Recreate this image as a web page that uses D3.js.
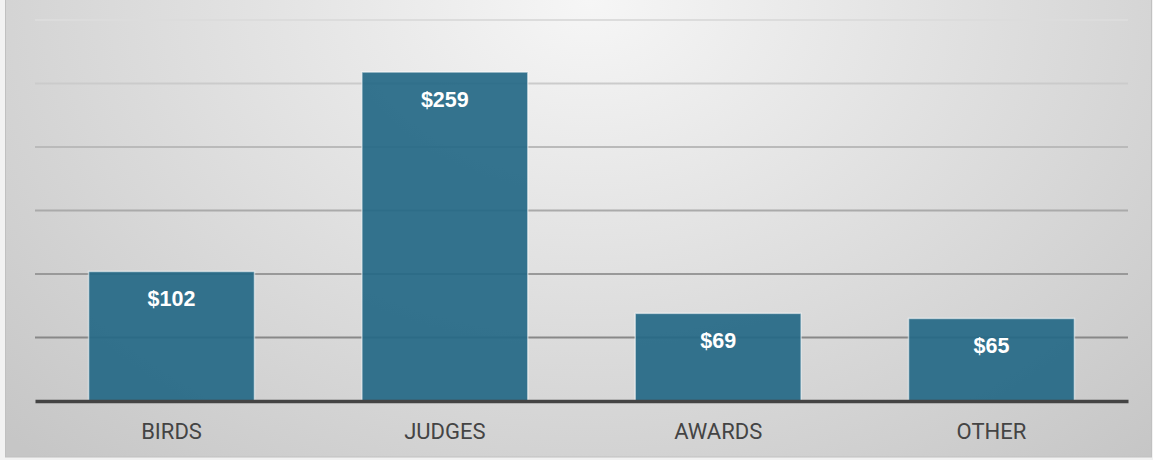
<!DOCTYPE html>
<html>
<head>
<meta charset="utf-8">
<script src="https://cdn.jsdelivr.net/npm/d3@7"></script>
<style>
  html, body { margin: 0; padding: 0; background: #f2f2f2; }
  svg { display: block; }
</style>
</head>
<body>
<div id="chart"></div>
<script>
const categories = ["BIRDS", "JUDGES", "AWARDS", "OTHER"];
const amounts = [102, 259, 69, 65];
const tickValues = [0, 50, 100, 150, 200, 250, 300];

const W = 1153, H = 460;
const margin = { top: 20, right: 25, bottom: 59, left: 35 };
const width = W - margin.left - margin.right,
    height = H - margin.top - margin.bottom;

const svg = d3.select("#chart")
    .append("svg")
    .attr("width", W)
    .attr("height", H);

const defs = svg.append("defs");
const bg = defs.append("radialGradient")
    .attr("id", "bg")
    .attr("gradientUnits", "userSpaceOnUse")
    .attr("cx", 0).attr("cy", 0).attr("r", 1)
    .attr("gradientTransform", "translate(590,0) scale(820,620)");
bg.append("stop").attr("offset", "0%").attr("stop-color", "#f6f6f6");
bg.append("stop").attr("offset", "100%").attr("stop-color", "#c6c6c6");

svg.append("rect")
    .attr("x", 5.5).attr("y", -1)
    .attr("width", W - 7).attr("height", H - 2)
    .attr("fill", "url(#bg)")
    .attr("stroke", "#c0c0c0")
    .attr("stroke-width", 1);

const chart = svg.append("g")
    .attr("transform", `translate(${margin.left},${margin.top})`);

const x = d3.scaleBand()
    .domain(categories)
    .range([0, width])
    .paddingInner(0.393)
    .paddingOuter(0.196);

const y = d3.scaleLinear()
    .domain([0, 300])
    .range([height, 0]);

// gridlines get darker toward the bottom
const gridColor = d3.scaleLinear()
    .domain([300, 50])
    .range(["#dcdcdc", "#888888"]);

chart.selectAll(".grid")
    .data(tickValues.filter(d => d > 0))
    .enter()
    .append("line")
    .attr("class", "grid")
    .attr("x1", 0)
    .attr("x2", width)
    .attr("y1", d => y(d))
    .attr("y2", d => y(d))
    .attr("stroke", d => gridColor(d))
    .attr("stroke-width", 2);

const data = categories.map((c, i) => ({ cat: c, val: amounts[i] }));

chart.selectAll(".bar")
    .data(data)
    .enter()
    .append("rect")
    .attr("class", "bar")
    .attr("x", d => x(d.cat))
    .attr("y", d => y(d.val))
    .attr("width", x.bandwidth())
    .attr("height", d => height - y(d.val))
    .attr("fill", "#246886")
    .attr("fill-opacity", 0.92)
    .attr("stroke", "rgba(255,255,255,0.55)")
    .attr("stroke-width", 1.5);

chart.selectAll(".label")
    .data(data)
    .enter()
    .append("text")
    .attr("class", "label")
    .attr("x", d => x(d.cat) + x.bandwidth() / 2)
    .attr("y", d => y(d.val) + 35)
    .attr("text-anchor", "middle")
    .style("fill", "#fff")
    .style("font-family", "'Liberation Sans', Arial, sans-serif")
    .style("font-weight", "bold")
    .style("font-size", "21.5px")
    .text(d => `$${d.val}`);

// baseline + category labels
const xAxis = chart.append("g")
    .attr("transform", `translate(0,${height})`)
    .call(d3.axisBottom(x).tickSize(0));

xAxis.select(".domain")
    .attr("stroke", "#444")
    .attr("stroke-width", 3.5);

xAxis.selectAll("text")
    .attr("y", 38)
    .attr("dy", null)
    .style("font-family", "Roboto, 'Liberation Sans', sans-serif")
    .style("font-size", "22px")
    .style("fill", "#444");
</script>
</body>
</html>
